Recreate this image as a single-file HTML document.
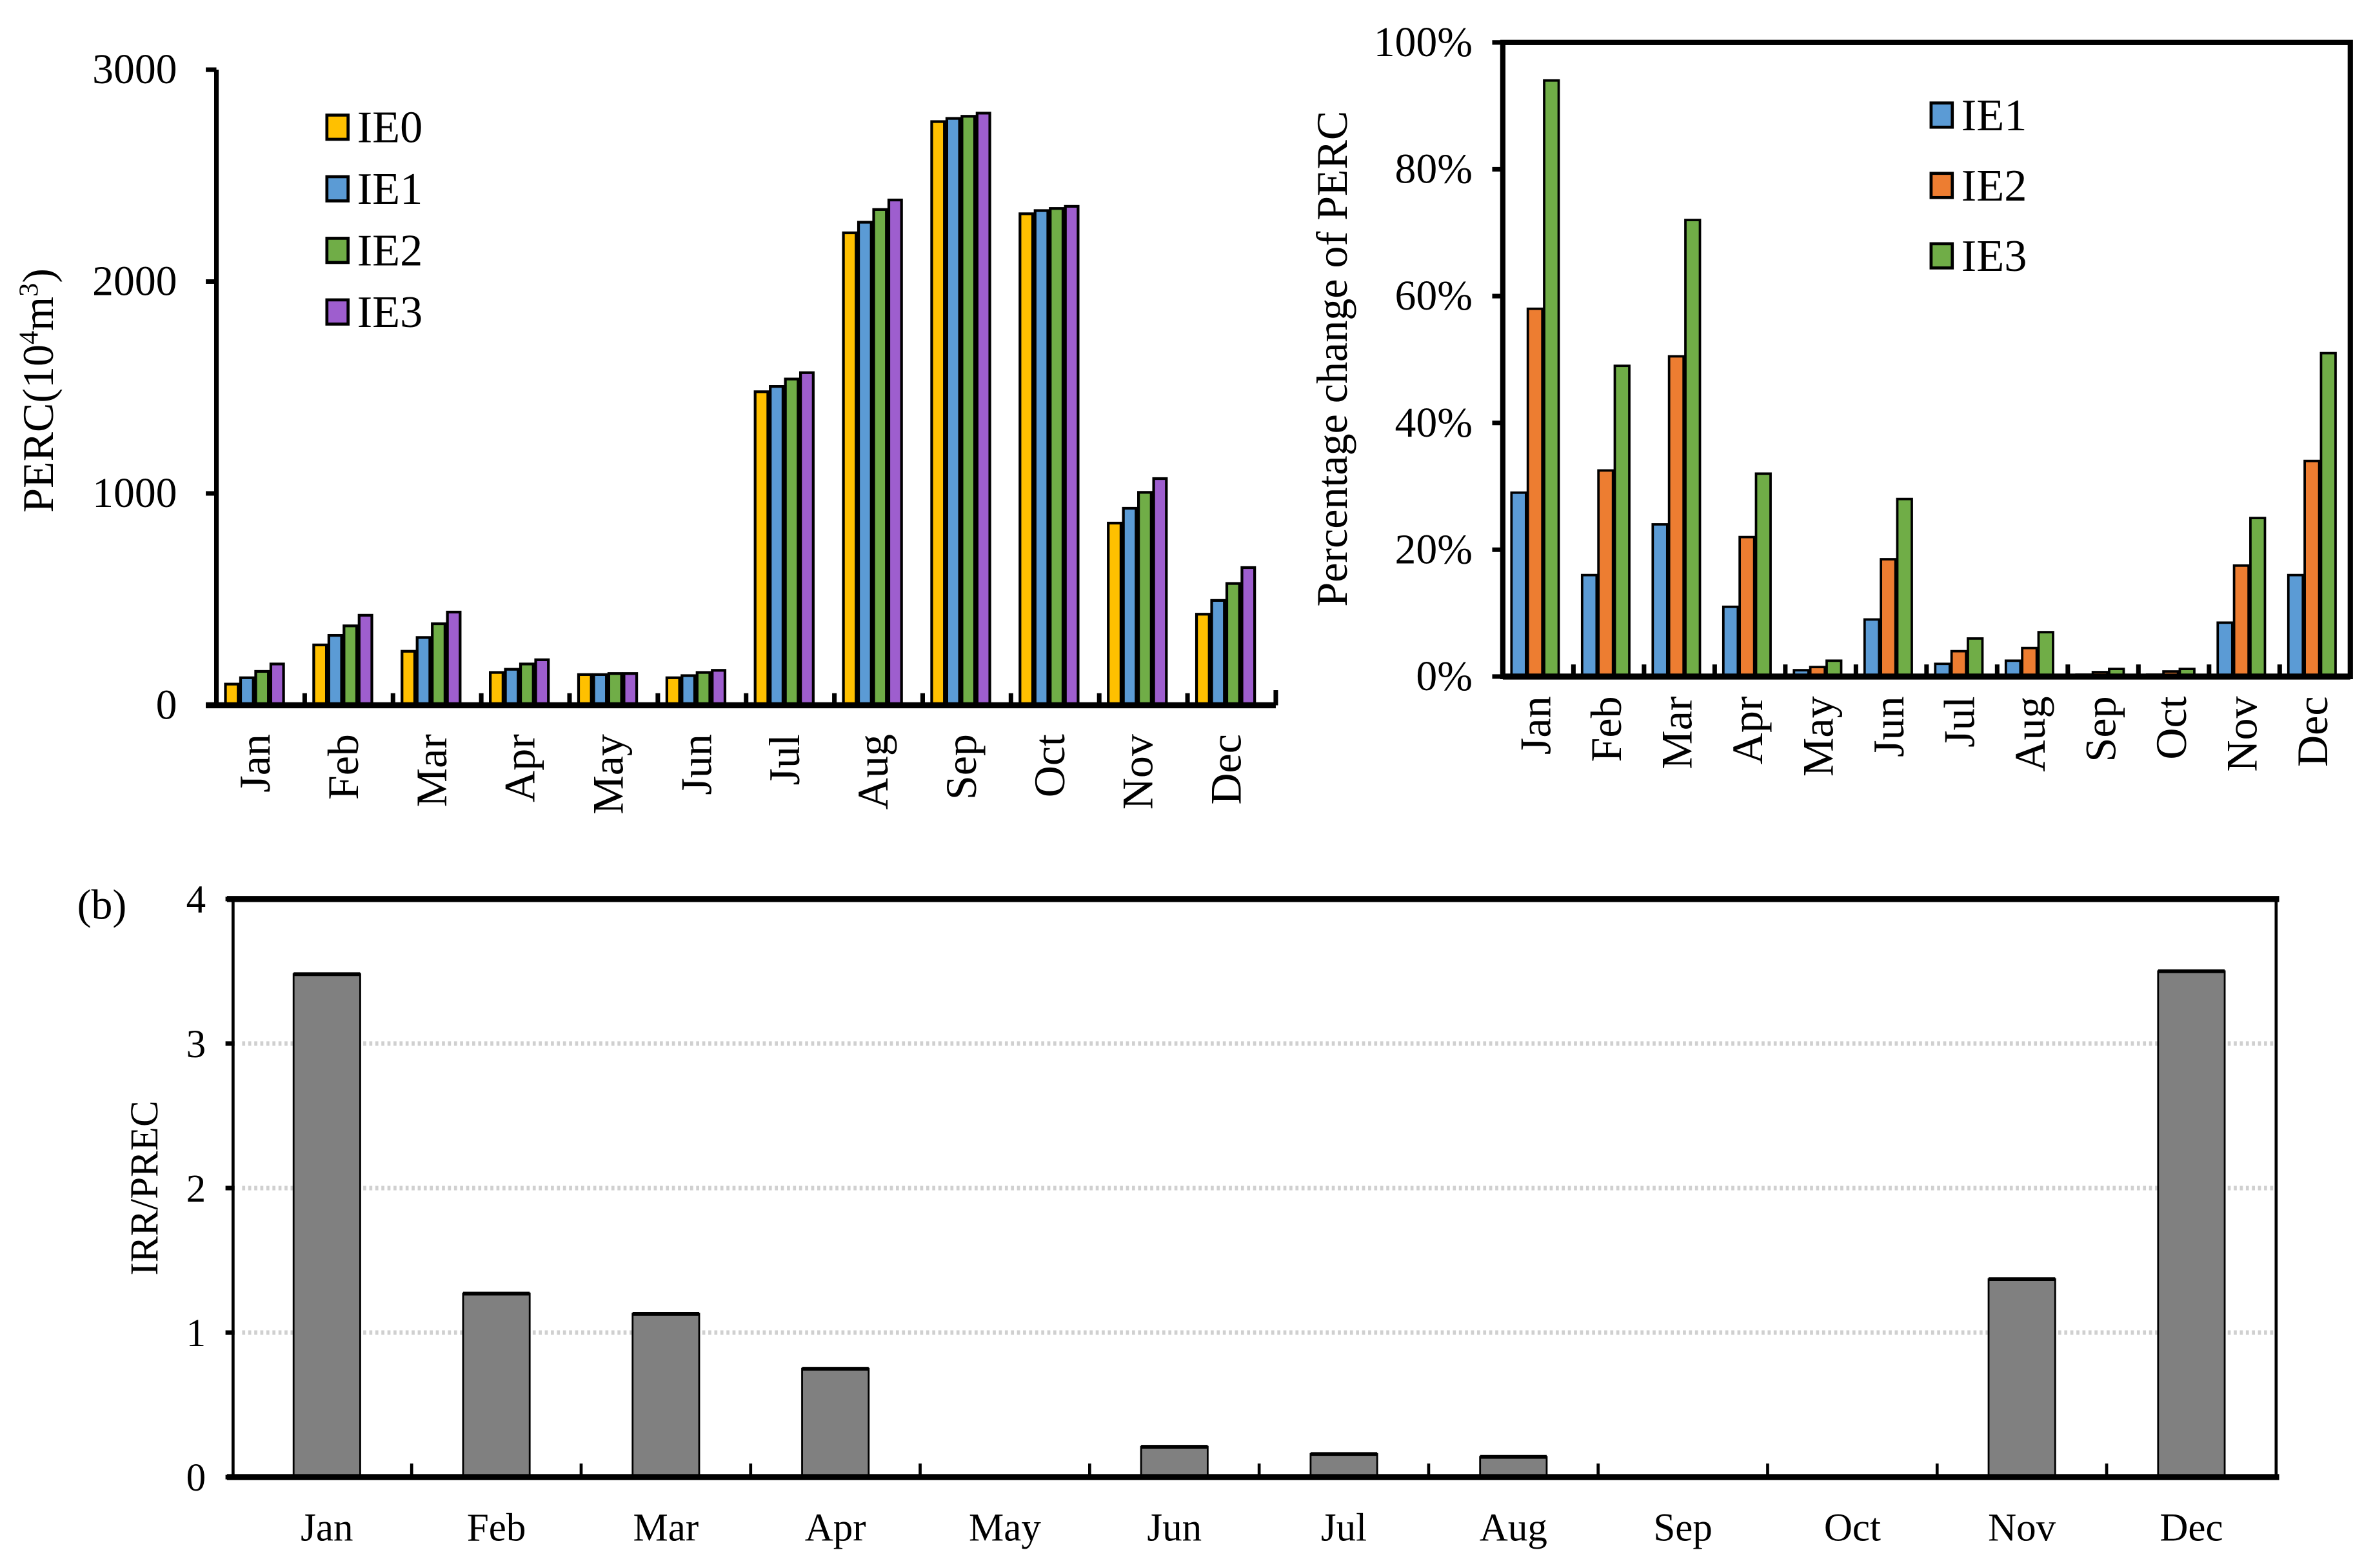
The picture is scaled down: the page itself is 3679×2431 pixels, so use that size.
<!DOCTYPE html>
<html><head><meta charset="utf-8"><style>
html,body{margin:0;padding:0;background:#fff;}
svg{display:block;}
svg text{font-family:"Liberation Serif","Times New Roman",serif;}
</style></head><body>
<svg id="fig" width="3679" height="2431" viewBox="0 0 1568 1036" font-family="Liberation Serif, serif" xmlns="http://www.w3.org/2000/svg">
<g id="ga"></g>
<g id="gb"></g>
<g id="gc"></g>
</svg>
<script>
const months = ["Jan","Feb","Mar","Apr","May","Jun","Jul","Aug","Sep","Oct","Nov","Dec"];
const ie0 = [100,285,255,155,145,130,1480,2230,2755,2320,860,430];
const ie1 = [130,330,320,170,145,140,1505,2280,2770,2335,930,495];
const ie2 = [160,375,385,195,150,155,1540,2340,2780,2345,1005,575];
const ie3 = [195,425,440,215,150,165,1570,2385,2795,2355,1070,650];
const percTicks = [0,1000,2000,3000];
const pc1 = [29,16,24,11,1,9,2,2.5,0.3,0.3,8.5,16];
const pc2 = [58,32.5,50.5,22,1.5,18.5,4,4.5,0.7,0.8,17.5,34];
const pc3 = [94,49,72,32,2.5,28,6,7,1.2,1.2,25,51];
const pcTicks = [0,20,40,60,80,100];
const ratio = [3.48,1.27,1.13,0.75,0,0.21,0.16,0.14,0,0,1.37,3.5];
const ratioTicks = [0,1,2,3,4];

const NS="http://www.w3.org/2000/svg";
function mk(parent,tag,attrs,text){const e=document.createElementNS(NS,tag);for(const k in attrs)e.setAttribute(k,attrs[k]);if(tag==='text')e.setAttribute('font-family','Liberation Serif, serif');if(text!==undefined)e.textContent=text;parent.appendChild(e);return e;}

// ---------- Chart A ----------
(function(){
const g=document.getElementById('ga');
const L=143,R=843,T=46,B=466,maxV=3000;
const y=v=>B-(v/maxV)*(B-T);
const gw=(R-L)/12;
const series=[ie0,ie1,ie2,ie3], cols=["#FFC000","#5B9BD5","#70AD47","#9E5ECE"], names=["IE0","IE1","IE2","IE3"];
const bw=10;
months.forEach((m,i)=>{
  const c=L+gw*(i+0.5)-4;
  series.forEach((s,j)=>{
    const x=c-2*bw+j*bw;
    const r=mk(g,'rect',{x:x+0.8,y:y(s[i]),width:bw-1.6,height:B-y(s[i]),fill:cols[j],stroke:'#000','stroke-width':1.8});
    
    
  });
  const t=mk(g,'text',{x:0,y:0,'font-size':29,'text-anchor':'end',transform:`translate(${c+10},485) rotate(-90)`},m);
  
  
  if(i>0){mk(g,'line',{x1:L+gw*i,x2:L+gw*i,y1:B,y2:B-8,stroke:'#000','stroke-width':3});}
});
mk(g,'line',{x1:L,x2:L,y1:T,y2:B,stroke:'#000','stroke-width':3});
mk(g,'line',{x1:L-7,x2:R,y1:B,y2:B,stroke:'#000','stroke-width':4});
mk(g,'line',{x1:R,x2:R,y1:B,y2:B-10,stroke:'#000','stroke-width':3});
percTicks.forEach(v=>{
  mk(g,'line',{x1:L-7,x2:L,y1:y(v),y2:y(v),stroke:'#000','stroke-width':3});
  const t=mk(g,'text',{x:L-26,y:y(v)+9,'font-size':28,'text-anchor':'end'},v);
  
  
});
const yt=mk(g,'text',{x:0,y:0,'font-size':29,'text-anchor':'middle',transform:'translate(35,258) rotate(-90)'});


yt.innerHTML='PERC(10<tspan dy="-10" font-size="18">4</tspan><tspan dy="10">m</tspan><tspan dy="-10" font-size="18">3</tspan><tspan dy="10">)</tspan>';
names.forEach((n,j)=>{
  const ly=84+j*40.7;
  const lg=mk(g,'g',{});
  
  
  mk(lg,'rect',{x:216,y:ly-8,width:14,height:16,fill:cols[j],stroke:'#000','stroke-width':2});
  mk(lg,'text',{x:236,y:ly+10,'font-size':30},n);
});
})();

// ---------- Chart B ----------
(function(){
const g=document.getElementById('gb');
const L=993,R=1553,T=28,B=447;
const y=v=>B-(v/100)*(B-T);
const gw=(R-L)/12;
const series=[pc1,pc2,pc3], cols=["#5B9BD5","#ED7D31","#70AD47"], names=["IE1","IE2","IE3"];
const bw=10.8;
mk(g,'rect',{x:L,y:T,width:R-L,height:B-T,fill:'none',stroke:'#000','stroke-width':3.5});
months.forEach((m,i)=>{
  const c=L+gw*(i+0.5)-2;
  series.forEach((s,j)=>{
    const x=c-1.5*bw+j*bw;
    const r=mk(g,'rect',{x:x+0.6,y:y(s[i]),width:bw-1.2,height:B-y(s[i]),fill:cols[j],stroke:'#000','stroke-width':1.6});
    
    
  });
  const t=mk(g,'text',{x:0,y:0,'font-size':29,'text-anchor':'end',transform:`translate(${c+10},460) rotate(-90)`},m);
  
  
  if(i>0){mk(g,'line',{x1:L+gw*i,x2:L+gw*i,y1:B,y2:B-8,stroke:'#000','stroke-width':3});}
});
mk(g,'line',{x1:L,x2:R,y1:B,y2:B,stroke:'#000','stroke-width':4});
pcTicks.forEach(v=>{
  mk(g,'line',{x1:L-7,x2:L,y1:y(v),y2:y(v),stroke:'#000','stroke-width':3});
  const t=mk(g,'text',{x:L-20,y:y(v)+9,'font-size':28,'text-anchor':'end'},v+'%');
  
  
});
const yt=mk(g,'text',{x:0,y:0,'font-size':29,'text-anchor':'middle',transform:'translate(890,237) rotate(-90)'},'Percentage change of PERC');


names.forEach((n,j)=>{
  const ly=76+j*46.5;
  const lg=mk(g,'g',{});
  
  
  mk(lg,'rect',{x:1276,y:ly-8,width:14,height:16,fill:cols[j],stroke:'#000','stroke-width':2});
  mk(lg,'text',{x:1296,y:ly+10,'font-size':30},n);
});
})();

// ---------- Chart C ----------
(function(){
const g=document.getElementById('gc');
const L=160,R=1504,T=594,B=976,maxV=4;
const y=v=>B-(v/maxV)*(B-T);
const gw=(R-L)/12;
ratioTicks.forEach(v=>{
  if(v>0&&v<4){const gl=mk(g,'line',{x1:L,x2:R,y1:y(v),y2:y(v),stroke:'#d0d0d0','stroke-width':3,'stroke-dasharray':'2,2'});}
});
months.forEach((m,i)=>{
  const c=L+gw*(i+0.5);
  const r=mk(g,'rect',{x:c-22,y:y(ratio[i]),width:44,height:B-y(ratio[i]),fill:'#808080',stroke:'#000','stroke-width':1.2});
  
  
  mk(g,'line',{x1:c-22,x2:c+22,y1:y(ratio[i]),y2:y(ratio[i]),stroke:'#000','stroke-width':2.5});
  const t=mk(g,'text',{x:c,y:1018,'font-size':26,'text-anchor':'middle'},m);
  
  
  if(i>0){mk(g,'line',{x1:L+gw*i,x2:L+gw*i,y1:B,y2:B-9,stroke:'#000','stroke-width':2});}
});
mk(g,'line',{x1:R,x2:R,y1:T,y2:B,stroke:'#000','stroke-width':2});
mk(g,'line',{x1:154,x2:154,y1:T,y2:B,stroke:'#000','stroke-width':2});
mk(g,'line',{x1:150,x2:R+2,y1:T,y2:T,stroke:'#000','stroke-width':4});
mk(g,'line',{x1:150,x2:R+2,y1:B,y2:B,stroke:'#000','stroke-width':4});
ratioTicks.forEach(v=>{
  mk(g,'line',{x1:149,x2:155,y1:y(v),y2:y(v),stroke:'#000','stroke-width':3});
  const t=mk(g,'text',{x:136,y:y(v)+9,'font-size':26,'text-anchor':'end'},v);
  
  
});
const yt=mk(g,'text',{x:0,y:0,'font-size':26,'text-anchor':'middle',transform:'translate(104,785) rotate(-90)'},'IRR/PREC');


const pl=mk(g,'text',{x:51,y:607,'font-size':28},'(b)');


})();
</script>
</body></html>
